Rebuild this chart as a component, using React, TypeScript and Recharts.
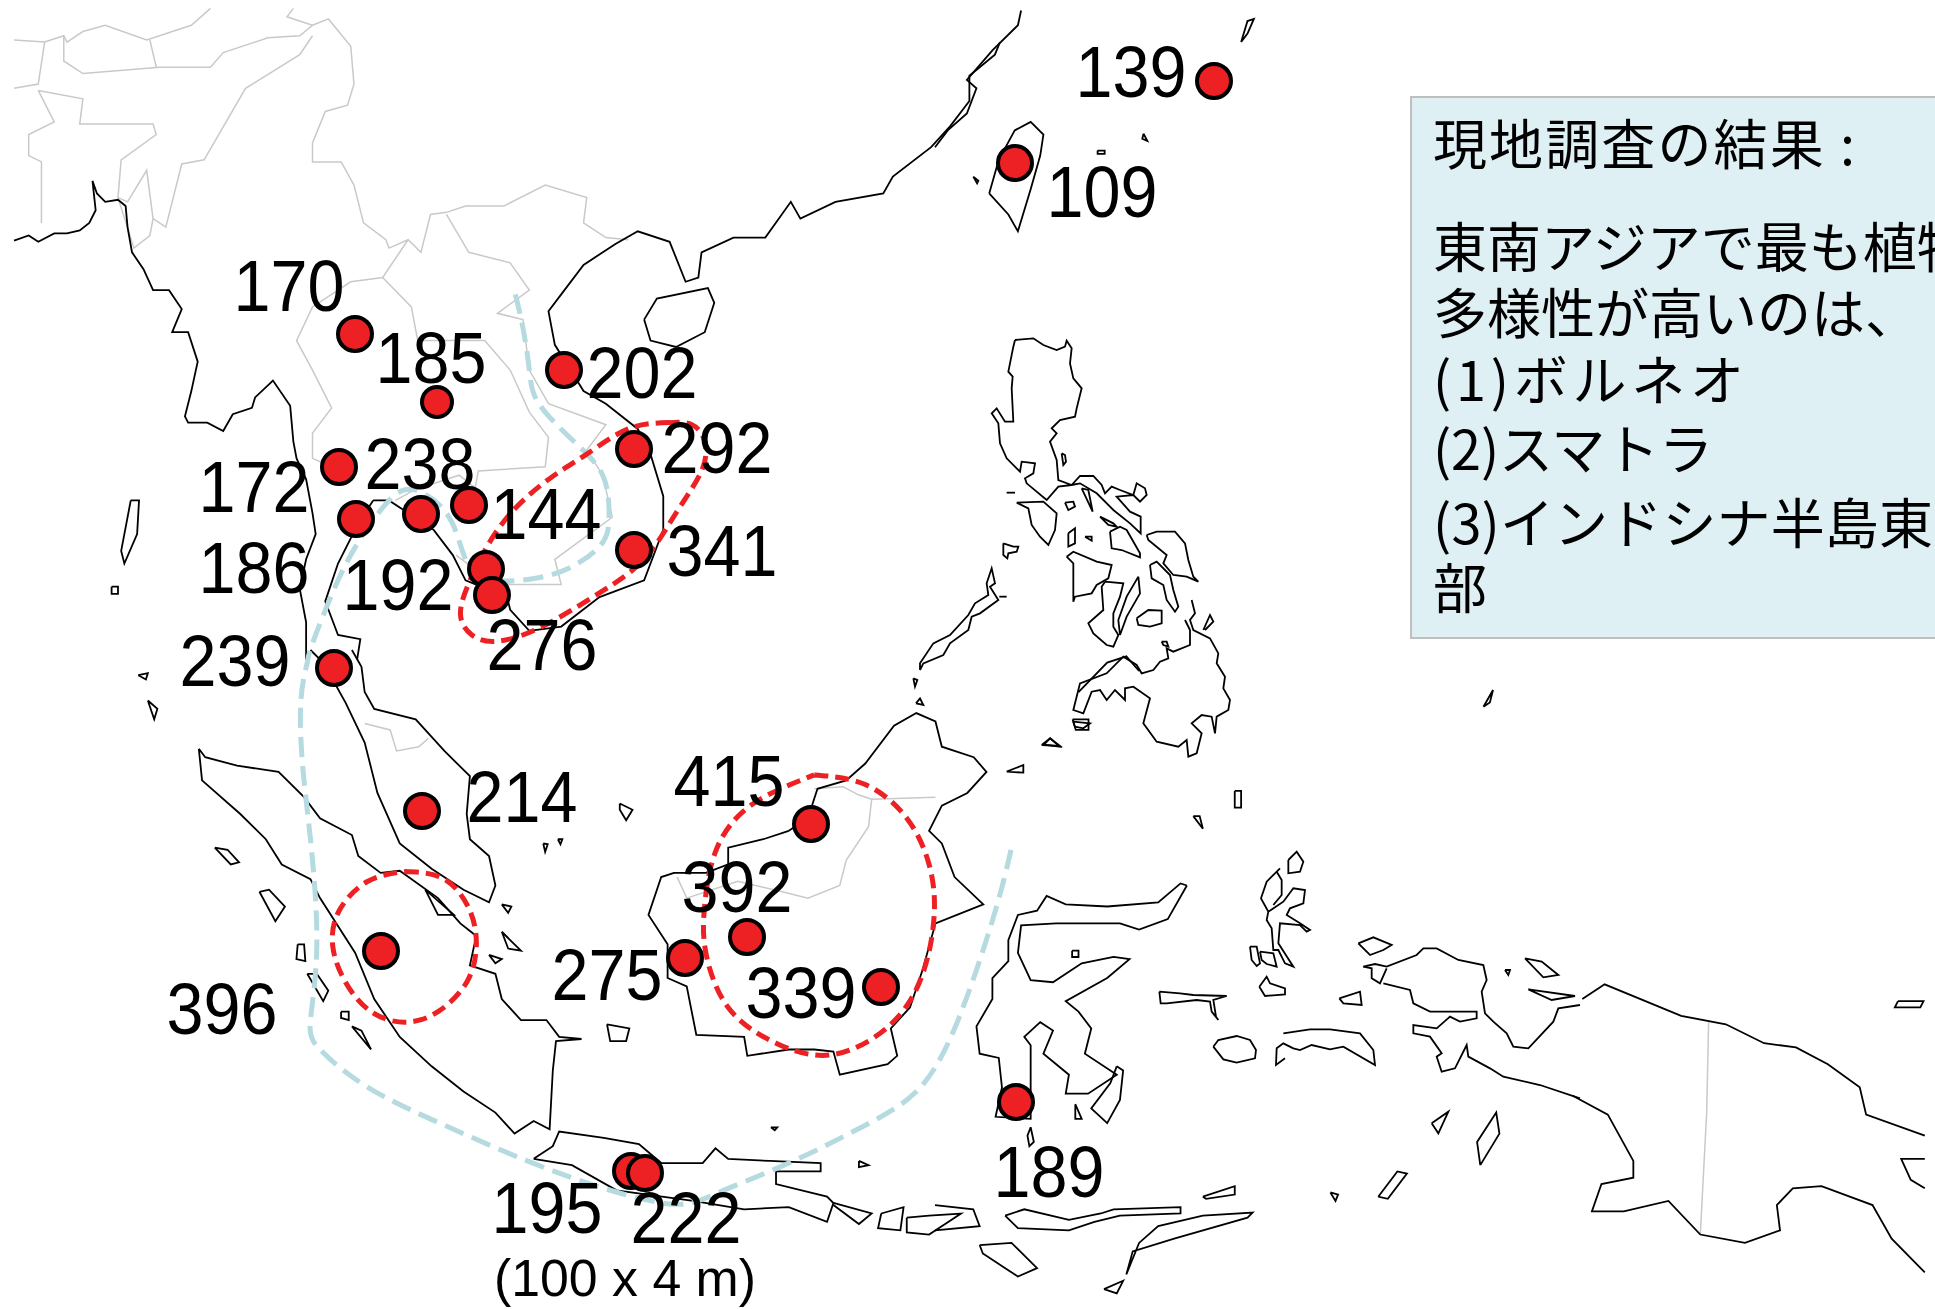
import React from "react";
import { ComposedChart, Line, Scatter, XAxis, YAxis, ReferenceArea } from "recharts";

const WIDTH = 1935;
const HEIGHT = 1309;

// outlines were traced in crops of the picture, so they are kept in crop units: [left, top, scaleX, scaleY]
const CROP_NW = [0, 0, 1.568, 2.378];
const CROP_SW = [100, 650, 1.568, 2.378];
const CROP_NE = [935, 0, 1.568, 2.378];
const CROP_SE = [935, 650, 1.568, 2.378];
const CROP_PHIL = [900, 320, 3, 3];
const CROP_MOLUCCAS = [1130, 840, 3, 3];

const toMap = (crop: number[], flat: number[]) => {
  const pts: { x: number; y: number }[] = [];
  for (let i = 0; i < flat.length; i += 2) {
    pts.push({ x: crop[0] + flat[i] / crop[2], y: crop[1] + flat[i + 1] / crop[3] });
  }
  return pts;
};

// ---- borders (grey)
const bordersNW = [
  [22, 95, 70, 100, 100, 85, 105, 100, 130, 75, 165, 60, 230, 95, 300, 60, 330, 20],
  [100, 85, 100, 145, 130, 175, 250, 160, 330, 160, 350, 125, 420, 90, 470, 85, 490, 60, 450, 40, 460, 20],
  [490, 60, 515, 45, 550, 110, 555, 200, 545, 250, 510, 265, 490, 340, 490, 385, 535, 385, 555, 440, 570, 530, 605, 570, 610, 590, 640, 570, 660, 600, 675, 510, 700, 505, 730, 490, 790, 490, 855, 440, 920, 470, 915, 530, 950, 565, 985, 570],
  [22, 210, 60, 200, 70, 100],
  [235, 95, 245, 160],
  [60, 215, 130, 235, 125, 295, 240, 295, 245, 320, 190, 380, 185, 470, 200, 480, 230, 405, 240, 520, 260, 540, 285, 390, 320, 380, 385, 210, 470, 130, 490, 85],
  [60, 215, 85, 290, 45, 320, 45, 370, 65, 385, 65, 530],
  [185, 470, 210, 590, 235, 560, 240, 520],
  [640, 570, 600, 660, 550, 670, 490, 730, 465, 810, 490, 880, 520, 970, 490, 1030, 490, 1090, 520, 1110],
  [600, 660, 645, 730, 655, 810, 760, 810, 800, 880, 830, 980, 860, 1040, 855, 1110, 750, 1120, 745, 1160, 720, 1130, 650, 1165, 620, 1190],
  [700, 510, 735, 600, 800, 625, 830, 690, 780, 745, 820, 760, 830, 880, 860, 960, 950, 1010, 920, 1070, 945, 1130, 960, 1230, 870, 1330, 880, 1390, 800, 1390, 750, 1360, 715, 1320],
];
const bordersSW = [
  [415, 175, 455, 190, 465, 240, 500, 230, 515, 210],
  [1120, 330, 1165, 325, 1190, 345, 1210, 355, 1310, 350],
  [1210, 355, 1205, 420, 1170, 500, 1160, 560, 1110, 590, 1070, 575, 1000, 550, 920, 590, 905, 540],
];
const bordersSE = [[1213, 885, 1210, 1100, 1200, 1390]];

// ---- coast (black)
const coastNW = [
  [22, 572, 45, 560, 60, 575, 85, 555, 105, 555, 125, 548, 140, 530, 150, 500, 145, 430, 152, 460, 165, 480, 185, 475, 197, 490, 200, 540, 207, 600, 225, 640, 240, 690, 265, 690, 285, 735, 270, 790, 295, 790, 310, 860, 300, 930, 290, 990, 295, 1005, 325, 1005, 350, 1025, 365, 985, 395, 970, 400, 945, 428, 905, 455, 965, 460, 1050, 465, 1090, 480, 1140, 490, 1220, 495, 1270, 480, 1330, 470, 1400, 480, 1480, 480, 1568],
  [585, 1190, 560, 1250, 530, 1340, 510, 1430, 530, 1510, 565, 1520, 560, 1568],
  [585, 1190, 610, 1190, 680, 1260, 710, 1320, 730, 1380, 795, 1420, 800, 1450, 830, 1500, 880, 1490, 940, 1420, 1010, 1380, 1040, 1260, 1040, 1180, 1020, 1080, 1000, 1020, 950, 960, 915, 930, 870, 820, 860, 740, 880, 700, 915, 630, 965, 580, 1000, 550, 1050, 575, 1075, 670, 1095, 660, 1100, 600, 1150, 565, 1200, 565, 1240, 480, 1255, 520, 1310, 480, 1385, 460, 1400, 420, 1460, 350, 1490, 300, 1520, 240, 1520, 180, 1560, 130, 1568, 100],
  [1010, 760, 1030, 710, 1110, 685, 1120, 720, 1105, 790, 1060, 825, 1020, 810, 1010, 760],
  [205, 1190, 218, 1190, 215, 1270, 195, 1340, 190, 1310, 205, 1190],
  [175, 1395, 185, 1395, 185, 1412, 175, 1412, 175, 1395],
];
const coastSW = [
  [330, 0, 350, 30, 385, 125, 415, 220, 435, 340, 470, 460, 520, 520, 570, 570, 610, 600, 620, 560, 610, 490, 580, 450, 575, 390, 580, 300, 540, 240, 495, 165, 430, 140, 415, 100, 410, 40, 395, 0],
  [155, 235, 165, 255, 215, 275, 280, 290, 320, 350, 345, 400, 395, 440, 405, 490, 440, 530, 470, 525, 530, 590, 565, 650, 590, 680, 580, 750, 620, 770, 630, 830, 660, 880, 700, 880, 720, 920, 755, 925, 715, 930, 710, 1000, 705, 1140, 680, 1120, 650, 1150, 620, 1100, 570, 1050, 520, 990, 470, 920, 430, 830, 400, 720, 345, 590, 330, 545, 285, 510, 260, 450, 220, 390, 160, 310, 155, 235],
  [180, 470, 200, 475, 218, 505, 205, 510, 180, 470],
  [250, 575, 265, 570, 290, 610, 275, 645, 250, 575],
  [310, 700, 320, 700, 322, 740, 308, 735, 310, 700],
  [325, 770, 340, 770, 358, 810, 350, 835, 325, 770],
  [378, 860, 390, 860, 390, 880, 378, 875, 378, 860],
  [395, 895, 410, 905, 425, 950, 395, 895],
  [510, 570, 525, 590, 555, 630, 530, 630, 510, 570],
  [630, 605, 645, 610, 640, 625, 630, 605],
  [630, 670, 660, 715, 640, 710, 630, 670],
  [610, 725, 630, 735, 620, 745, 610, 725],
  [795, 890, 830, 900, 825, 930, 800, 930, 795, 890],
  [815, 365, 835, 380, 825, 405, 815, 380, 815, 365],
  [695, 460, 702, 462, 698, 480, 695, 460],
  [718, 450, 725, 450, 722, 462, 718, 450],
  [1080, 430, 1040, 450, 985, 470, 985, 510, 950, 530, 900, 530, 880, 540, 860, 630, 890, 700, 890, 780, 920, 800, 935, 915, 1010, 920, 1015, 965, 1080, 950, 1120, 950, 1150, 955, 1160, 1010, 1235, 985, 1250, 965, 1240, 900, 1270, 850, 1290, 760, 1310, 650, 1385, 605, 1340, 540, 1320, 460, 1300, 430, 1320, 370, 1360, 340, 1390, 290, 1370, 255, 1320, 230, 1310, 170, 1280, 150, 1245, 180, 1200, 270, 1170, 310, 1125, 330, 1110, 400, 1080, 430],
  [680, 1210, 710, 1180, 720, 1145, 790, 1160, 845, 1175, 880, 1220, 945, 1220, 965, 1185, 985, 1210, 1050, 1215, 1130, 1220, 1130, 1240, 1060, 1240, 1060, 1270, 1140, 1300, 1150, 1315, 1140, 1360, 1080, 1325, 1010, 1330, 930, 1310, 810, 1285, 740, 1225, 680, 1210],
  [1150, 1315, 1210, 1340, 1190, 1365, 1150, 1320],
  [1225, 1340, 1260, 1325, 1255, 1380, 1220, 1375, 1225, 1340],
  [1265, 1350, 1300, 1345, 1350, 1340, 1330, 1360, 1300, 1390, 1265, 1385, 1265, 1350],
  [1190, 1215, 1205, 1225, 1190, 1230, 1190, 1215],
  [1052, 1135, 1062, 1135, 1058, 1142, 1052, 1135],
  [1480, 225, 1490, 210, 1505, 230, 1480, 225],
  [1525, 165, 1550, 165, 1550, 190, 1530, 190, 1525, 165],
  [60, 60, 75, 55, 72, 70, 60, 60],
  [75, 120, 90, 140, 85, 165, 75, 120],
];
const coastNE = [
  [0, 350, 20, 310, 50, 270, 65, 210, 50, 190, 90, 120, 130, 60, 135, 25],
  [85, 460, 100, 380, 125, 310, 150, 290, 170, 320, 165, 370, 150, 450, 130, 550, 115, 510, 85, 460],
  [60, 420, 68, 430, 66, 436, 60, 420],
  [255, 358, 266, 358, 266, 366, 255, 366, 255, 358],
  [327, 318, 333, 335, 325, 330, 327, 318],
  [480, 100, 490, 50, 500, 45, 490, 80, 480, 100],
];
const coastPhil = [
  [345, 60, 400, 55, 430, 75, 470, 90, 495, 80, 500, 62, 515, 85, 510, 130, 520, 175, 545, 205, 530, 265, 525, 290, 480, 300, 455, 325, 470, 340, 450, 365, 470, 420, 475, 480, 515, 495, 540, 468, 580, 468, 605, 495, 615, 520, 635, 500, 660, 510, 700, 525, 710, 490, 735, 505, 740, 525, 720, 545, 700, 525, 650, 530, 690, 575, 722, 590, 722, 640, 690, 610, 640, 570, 590, 520, 540, 490, 515, 495, 475, 500, 440, 540, 380, 490, 375, 475, 400, 460, 405, 430, 365, 425, 360, 455, 320, 415, 300, 370, 295, 310, 275, 280, 290, 265, 315, 305, 340, 305, 335, 205, 338, 170, 325, 155, 340, 80, 345, 60],
  [485, 400, 495, 405, 498, 425, 490, 435, 485, 400],
  [350, 548, 430, 545, 470, 580, 465, 630, 445, 675, 420, 650, 395, 615, 385, 565, 350, 548],
  [495, 548, 520, 545, 525, 560, 505, 570, 495, 548],
  [545, 505, 565, 510, 578, 575, 545, 505],
  [600, 590, 640, 610, 650, 620, 625, 615, 600, 590],
  [630, 635, 660, 620, 680, 630, 720, 700, 720, 712, 665, 690, 635, 685, 630, 635],
  [740, 645, 770, 635, 825, 635, 855, 670, 865, 720, 880, 770, 895, 785, 860, 770, 820, 765, 790, 730, 800, 705, 745, 660, 740, 645],
  [750, 735, 770, 725, 810, 765, 820, 810, 835, 860, 825, 875, 800, 840, 790, 795, 755, 775, 750, 735],
  [500, 710, 520, 695, 590, 725, 635, 735, 625, 775, 590, 795, 575, 820, 525, 830, 520, 845, 520, 730, 500, 710],
  [615, 785, 670, 790, 660, 830, 640, 880, 640, 920, 655, 945, 640, 980, 620, 975, 580, 940, 565, 910, 610, 870, 605, 800, 615, 785],
  [715, 770, 720, 820, 680, 890, 660, 945, 655, 900, 680, 830, 715, 770],
  [710, 895, 745, 870, 785, 872, 785, 910, 750, 920, 715, 915, 710, 895],
  [505, 640, 525, 625, 525, 670, 505, 680, 505, 640],
  [555, 650, 575, 650, 575, 662, 555, 650],
  [310, 670, 340, 680, 355, 680, 350, 695, 325, 700, 322, 715, 310, 705, 310, 670],
  [320, 518, 345, 518],
  [60, 1050, 60, 1030, 100, 970, 150, 945, 205, 885, 225, 850, 265, 825, 260, 790, 275, 745, 285, 790, 270, 800, 295, 840, 240, 880, 215, 890, 205, 930, 150, 970, 130, 1005, 70, 1030, 60, 1050],
  [298, 830, 320, 830],
  [40, 1075, 52, 1080, 45, 1100, 40, 1075],
  [48, 1150, 60, 1135, 70, 1155, 48, 1150],
  [875, 840, 885, 880, 870, 900, 880, 930, 930, 955, 955, 1000, 950, 1030, 975, 1070, 970, 1105, 990, 1140, 985, 1170, 950, 1190, 945, 1240, 935, 1190, 905, 1185, 875, 1210, 905, 1240, 890, 1300, 865, 1310, 860, 1260, 835, 1280, 770, 1265, 730, 1210, 750, 1135, 700, 1100, 675, 1105, 675, 1140, 645, 1110, 620, 1140, 600, 1110, 575, 1115, 550, 1180, 520, 1170, 540, 1090, 620, 1060, 670, 1010, 710, 1035, 725, 1060, 760, 1050, 780, 1025, 805, 1015, 800, 985, 820, 995, 870, 975, 870, 930, 855, 900],
  [785, 965, 800, 965, 805, 980, 790, 975, 785, 965],
  [520, 1205, 570, 1210, 550, 1225, 525, 1220, 520, 1205],
  [910, 930, 930, 885, 940, 905, 915, 930],
  [425, 1275, 450, 1255, 480, 1278, 425, 1275],
  [320, 1355, 370, 1335, 370, 1358, 320, 1355],
];
const coastMoluccas = [
  [450, 85, 410, 125, 393, 175, 415, 215, 460, 185, 490, 145, 525, 150, 520, 190, 480, 205, 470, 225, 510, 250, 540, 270, 530, 275, 510, 255, 450, 250, 445, 310, 490, 380, 465, 370, 445, 330, 430, 330, 425, 265, 410, 240, 415, 215],
  [440, 95, 455, 120, 455, 165, 430, 195],
  [475, 60, 500, 35, 520, 65, 510, 95, 475, 100, 475, 60],
  [360, 320, 380, 320, 390, 370, 380, 378, 365, 360, 360, 320],
  [390, 335, 430, 340, 440, 380, 410, 372, 395, 360, 390, 335],
  [388, 440, 410, 410, 420, 430, 465, 445, 465, 463, 405, 468, 388, 440],
  [88, 455, 150, 460, 190, 465, 290, 468, 250, 480, 258, 530, 265, 540, 245, 515, 240, 485, 200, 480, 110, 490, 92, 490, 88, 455],
  [250, 620, 265, 600, 320, 588, 360, 600, 378, 630, 375, 655, 320, 668, 280, 658, 250, 620],
  [460, 580, 540, 568, 600, 568, 690, 580, 730, 630, 735, 675, 640, 620, 600, 628, 545, 615, 510, 630, 490, 625, 460, 610, 440, 625, 438, 675, 465, 655],
  [628, 475, 690, 455, 695, 495, 640, 490, 628, 475],
  [685, 310, 730, 292, 785, 315, 760, 330, 720, 345, 685, 310],
  [700, 380, 735, 372, 770, 380, 860, 345, 880, 325, 920, 325, 985, 360, 1060, 375, 1070, 420, 1055, 455, 1065, 520, 1090, 545, 1130, 580, 1150, 620, 1195, 625, 1270, 545, 1285, 505, 1350, 495],
  [760, 430, 840, 450, 850, 490, 900, 515, 1040, 515, 1040, 535, 990, 545, 960, 530, 920, 565, 850, 555, 850, 580, 900, 590, 935, 640, 920, 650, 935, 695, 975, 685, 1010, 615, 1015, 650, 1080, 685, 1120, 710, 1230, 735, 1350, 775],
  [700, 380, 725, 385, 725, 415, 750, 430, 770, 385],
  [1185, 355, 1235, 365, 1285, 405, 1240, 412, 1185, 355],
  [1195, 448, 1335, 468, 1265, 480, 1195, 448],
  [1125, 390, 1140, 390, 1135, 405, 1125, 390],
  [905, 850, 955, 815, 925, 880, 905, 850],
];
const coastSE = [
  [225, 100, 270, 30, 300, 15, 320, 50],
  [395, 560, 385, 555, 350, 600, 270, 610, 205, 605, 175, 585, 160, 620, 130, 630, 115, 690, 115, 740, 90, 780, 90, 830, 65, 895, 70, 960, 100, 970, 105, 1040, 95, 1110, 150, 1115, 150, 940, 140, 920, 165, 885, 185, 905, 170, 960, 210, 1010, 205, 1055, 240, 1055, 285, 1010, 235, 960, 245, 900, 225, 860, 205, 835, 270, 780, 305, 735, 280, 730, 230, 745, 185, 790, 150, 785, 130, 720, 135, 655, 190, 650, 290, 650, 320, 665, 365, 640, 395, 560],
  [285, 990, 295, 1000, 290, 1070, 270, 1125, 245, 1090, 275, 1030, 285, 990],
  [220, 1080, 230, 1115, 220, 1115, 220, 1080],
  [150, 1135, 155, 1170, 148, 1180, 145, 1155, 150, 1135],
  [215, 715, 225, 715, 225, 730, 215, 730, 215, 715],
  [1015, 830, 1050, 795, 1170, 870, 1240, 890, 1300, 935, 1350, 945, 1400, 985, 1450, 1040, 1460, 1105, 1552, 1155],
  [1552, 1480, 1500, 1400, 1470, 1320, 1390, 1275, 1345, 1280, 1320, 1320, 1325, 1380, 1270, 1410, 1200, 1390, 1150, 1310, 1080, 1335, 1030, 1335, 1045, 1270, 1095, 1255, 1095, 1215, 1055, 1105, 1000, 1060],
  [855, 1225, 850, 1170, 880, 1100, 885, 1150, 855, 1225],
  [695, 1300, 725, 1240, 740, 1245, 710, 1305, 695, 1300],
  [620, 1290, 632, 1295, 628, 1310, 620, 1290],
  [420, 1300, 470, 1275, 470, 1295, 425, 1305, 420, 1300],
  [1510, 835, 1550, 835, 1545, 850, 1505, 850, 1510, 835],
  [1552, 1210, 1515, 1210, 1530, 1260, 1552, 1280],
  [860, 135, 875, 95, 870, 125, 860, 135],
  [470, 335, 480, 335, 480, 375, 470, 375, 470, 335],
  [405, 395, 415, 395, 420, 425, 405, 395],
  [265, 1520, 295, 1500, 285, 1530, 265, 1520],
  [110, 1345, 140, 1330, 210, 1355, 260, 1340, 280, 1330, 385, 1325, 385, 1340, 290, 1345, 250, 1360, 210, 1380, 130, 1375, 110, 1345],
  [0, 1320, 60, 1330, 70, 1370, 0, 1380],
  [300, 1485, 310, 1430, 375, 1400, 490, 1350, 498, 1338, 420, 1345, 350, 1370, 320, 1410, 300, 1485],
  [70, 1415, 120, 1410, 160, 1470, 130, 1490, 75, 1435, 70, 1415],
];

// ---- dashed regions
const blueRangeNW = [808, 700, 820, 780, 830, 880, 845, 960, 900, 1050, 945, 1130, 955, 1220, 945, 1290, 900, 1345, 840, 1375, 760, 1375, 725, 1310, 700, 1220, 650, 1165, 610, 1190, 570, 1270, 530, 1380, 490, 1530];
const blueRangeSW = [325, 30, 315, 120, 318, 280, 330, 450, 340, 700, 330, 880, 345, 950, 420, 1040, 540, 1130, 670, 1215, 790, 1280, 900, 1318, 970, 1290, 1080, 1220, 1200, 1130, 1280, 1050, 1340, 900, 1400, 640, 1430, 465];
const redIndochina = [1050, 1005, 985, 1020, 920, 1080, 860, 1140, 790, 1240, 740, 1370, 722, 1460, 740, 1510, 780, 1525, 850, 1490, 940, 1410, 1010, 1330, 1060, 1220, 1100, 1120, 1105, 1050, 1085, 1010, 1050, 1005];
const redSumatra = [478, 527, 540, 545, 580, 620, 590, 705, 575, 790, 530, 860, 478, 885, 425, 860, 385, 790, 365, 705, 375, 620, 420, 550, 478, 527];
const redBorneo = [1120, 297, 1200, 320, 1265, 400, 1300, 510, 1308, 630, 1290, 770, 1240, 890, 1150, 962, 1060, 935, 985, 850, 950, 720, 948, 610, 965, 480, 1020, 370, 1120, 297];

// ---- plots (species counts), positions in picture pixels
const siteX = [355, 437, 564, 634, 339, 356, 421, 469, 486, 492, 634, 334, 422, 811, 747, 685, 881, 381, 1016, 631, 645, 1214, 1015];
const siteY = [334, 402, 370, 449, 467, 519, 514, 505, 569, 595, 550, 668, 811, 824, 937, 958, 987, 951, 1102, 1171, 1173, 81, 163];
const siteCount = [170, 185, 202, 292, 238, 172, 186, 144, 192, 276, 341, 239, 214, 415, 392, 275, 339, 396, 189, 195, 222, 139, 109];

const labelX = [289, 431, 642, 717, 420, 254, 254, 546, 398, 542, 722, 235, 522, 729, 737, 607, 801, 222, 1049, 547, 686, 1131, 1102];
const labelY = [311, 383, 398, 473, 489, 512, 593, 539, 610, 670, 576, 686, 822, 806, 912, 1000, 1018, 1034, 1197, 1233, 1243, 97, 217];

const boxLines = ["現地調査の結果 :", "東南アジアで最も植物の", "多様性が高いのは、", "(1)ボルネオ", "(2)スマトラ", "(3)インドシナ半島東", "部"];
const boxLineY = [165, 268, 334, 401, 470, 544, 609];
const boxLineWidth = [422, 0, 0, 311, 280, 500, 0];

const RED = "#ed2024";
const GREY = "#c9c9c9";
const BLUE = "#b5dae0";

const labelRows = siteCount.map((c, i) => ({ x: labelX[i], y: labelY[i], text: String(c) }));
const siteRows = siteCount.map((c, i) => ({ x: siteX[i], y: siteY[i], count: c }));
const boxRows = boxLines.map((t, i) => ({ x: 1433, y: boxLineY[i], text: t, len: boxLineWidth[i] }));
const plotNote = [{ x: 625, y: 1296, text: "(100 x 4 m)" }];

const greyLines = [...bordersNW.map((f) => toMap(CROP_NW, f)), ...bordersSW.map((f) => toMap(CROP_SW, f)), ...bordersSE.map((f) => toMap(CROP_SE, f))];
const blackLines = [
  ...coastNW.map((f) => toMap(CROP_NW, f)),
  ...coastSW.map((f) => toMap(CROP_SW, f)),
  ...coastNE.map((f) => toMap(CROP_NE, f)),
  ...coastPhil.map((f) => toMap(CROP_PHIL, f)),
  ...coastMoluccas.map((f) => toMap(CROP_MOLUCCAS, f)),
  ...coastSE.map((f) => toMap(CROP_SE, f)),
];
const blueLine = [...toMap(CROP_NW, blueRangeNW), ...toMap(CROP_SW, blueRangeSW)];
const redLines = [toMap(CROP_NW, redIndochina), toMap(CROP_SW, redSumatra), toMap(CROP_SW, redBorneo)];

const SANS = "'Liberation Sans', Arial, sans-serif";

const CountLabel = (props: any) => (
  <text x={props.cx} y={props.cy} textAnchor="middle" fontFamily={SANS} fontSize={73} textLength={111} lengthAdjust="spacingAndGlyphs" fill="#000">
    {props.payload.text}
  </text>
);

const NoteLabel = (props: any) => (
  <text x={props.cx} y={props.cy} textAnchor="middle" fontFamily={SANS} fontSize={52} textLength={262} lengthAdjust="spacingAndGlyphs" fill="#000">
    {props.payload.text}
  </text>
);

const BoxLine = (props: any) => (
  <text
    x={props.cx}
    y={props.cy}
    fontFamily="'Noto Sans CJK JP', sans-serif"
    fontSize={54}
    fill="#000"
    {...(props.payload.len ? { textLength: props.payload.len } : {})}
  >
    {props.payload.text}
  </text>
);

const SiteDot = (props: any) => (
  <circle cx={props.cx} cy={props.cy} r={props.payload.count === 185 ? 15 : 17} fill={RED} stroke="#000" strokeWidth={4} />
);

const App: React.FC = () => {
  return (
    <div style={{ position: "absolute", left: 0, top: 0, width: WIDTH, height: HEIGHT, background: "#fff" }}>
      <ComposedChart width={WIDTH} height={HEIGHT} margin={{ top: 0, right: 0, bottom: 0, left: 0 }}>
        <XAxis type="number" dataKey="x" domain={[0, WIDTH]} hide allowDataOverflow />
        <YAxis type="number" dataKey="y" domain={[0, HEIGHT]} reversed hide allowDataOverflow />
        <ReferenceArea x1={1411} x2={1945} y1={97} y2={638} fill="#dff0f5" fillOpacity={1} stroke="#bfbfbf" strokeWidth={2} ifOverflow="visible" />
        {greyLines.map((pts, i) => (
          <Line key={"g" + i} data={pts} dataKey="y" type="linear" stroke={GREY} strokeWidth={1.5} dot={false} activeDot={false} isAnimationActive={false} />
        ))}
        {blackLines.map((pts, i) => (
          <Line key={"k" + i} data={pts} dataKey="y" type="linear" stroke="#000" strokeWidth={1.8} dot={false} activeDot={false} isAnimationActive={false} />
        ))}
        <Scatter data={labelRows} dataKey="y" shape={CountLabel} isAnimationActive={false} />
        <Scatter data={plotNote} dataKey="y" shape={NoteLabel} isAnimationActive={false} />
        <Scatter data={boxRows} dataKey="y" shape={BoxLine} isAnimationActive={false} />
        <Scatter data={siteRows} dataKey="y" shape={SiteDot} isAnimationActive={false} />
        <Line data={blueLine} dataKey="y" type="natural" stroke={BLUE} strokeWidth={5} strokeDasharray="20 9" dot={false} activeDot={false} isAnimationActive={false} />
        {redLines.map((pts, i) => (
          <Line key={"r" + i} data={pts} dataKey="y" type="natural" stroke={RED} strokeWidth={5} strokeDasharray="14 7" dot={false} activeDot={false} isAnimationActive={false} />
        ))}
      </ComposedChart>
    </div>
  );
};

export default App;
